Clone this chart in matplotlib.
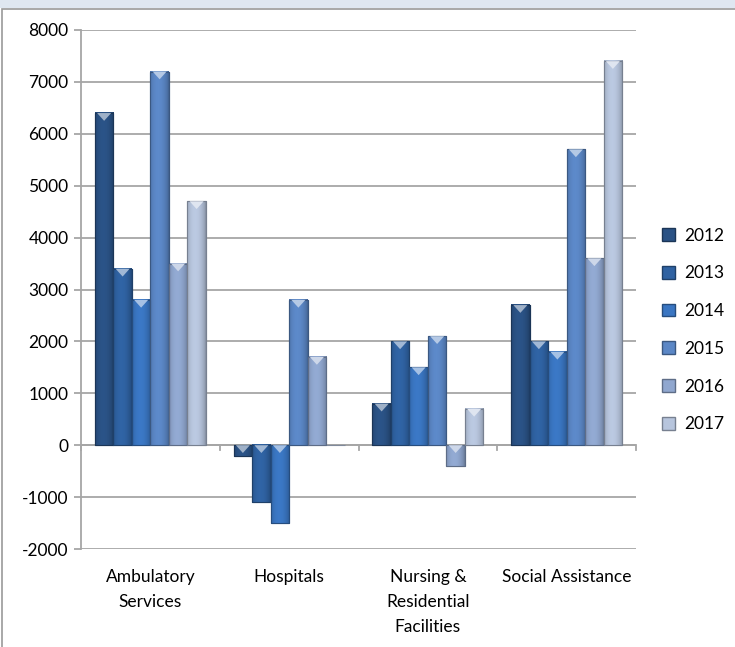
import matplotlib
matplotlib.use('Agg')
import matplotlib.pyplot as plt
from matplotlib.patches import Rectangle, Polygon, Patch
import matplotlib.colors as mcolors
import numpy as np

plt.rcParams['font.family'] = ['Lato', 'DejaVu Sans']
plt.rcParams['axes.unicode_minus'] = False

# data
categories = ['Ambulatory\nServices', 'Hospitals', 'Nursing &\nResidential\nFacilities', 'Social Assistance']
years = ['2012', '2013', '2014', '2015', '2016', '2017']
v2012 = [6400, -200, 800, 2700]
v2013 = [3400, -1100, 2000, 2000]
v2014 = [2800, -1500, 1500, 1800]
v2015 = [7200, 2800, 2100, 5700]
v2016 = [3500, 1700, -400, 3600]
v2017 = [4700, 0, 700, 7400]
series = [v2012, v2013, v2014, v2015, v2016, v2017]
colors = ['#2a5285', '#2f62a2', '#3a76c2', '#5b87c6', '#90a7cf', '#b7c5dd']

fig = plt.figure(figsize=(7.35, 6.47), dpi=100)
fig.patch.set_facecolor('white')
# window band and chart border
fig.patches.append(Rectangle((0, 1 - 8/647), 1, 8/647, transform=fig.transFigure,
                             facecolor='#dfe7f1', edgecolor='none', zorder=0))
fig.patches.append(Rectangle((2/735, -0.01), 1.1, 1 - 9/647 + 0.01, transform=fig.transFigure,
                             facecolor='none', edgecolor='#9a9a9a', linewidth=1.2, zorder=1))

ax = fig.add_axes([81/735, 1 - 549/647, (636 - 81)/735, (549 - 30)/647])

n = len(years)
bw = 0.8 / n
x = np.arange(len(categories))
tri_h = 150

def shade(c, f):
    r, g, b = mcolors.to_rgb(c)
    return (r * f, g * f, b * f)

for i, vals in enumerate(series):
    bars = ax.bar(x - 0.4 + bw * (i + 0.5), vals, width=bw, color=colors[i],
                  edgecolor=shade(colors[i], 0.7), linewidth=0.8, zorder=3)
    for b in bars:
        h = b.get_height()
        if h == 0:
            continue
        x0, w = b.get_x(), b.get_width()
        y0, y1 = min(b.get_y(), b.get_y() + h), max(b.get_y(), b.get_y() + h)
        # horizontal shading across the bar
        t = np.linspace(0, 1, 40)
        f = 0.82 + 0.25 * np.sin(np.pi * t) ** 0.6 - 0.1 * t
        base = np.array(mcolors.to_rgb(colors[i]))
        img = np.clip(base[None, :] * f[:, None], 0, 1)[None, :, :]
        ax.imshow(img, extent=[x0, x0 + w, y0, y1], aspect='auto', zorder=3.5,
                  interpolation='bilinear')
        ax.add_patch(Rectangle((x0, y0), w, y1 - y0, facecolor='none',
                               edgecolor=shade(colors[i], 0.65), linewidth=0.8, zorder=4))
        th = min(tri_h, (y1 - y0) * 0.8)
        light = tuple(min(1, c + (1 - c) * 0.55) for c in mcolors.to_rgb(colors[i]))
        ax.add_patch(Polygon([(x0 + w * 0.12, y1), (x0 + w * 0.88, y1), (x0 + w / 2, y1 - th)],
                             closed=True, facecolor=light, edgecolor='none', zorder=4.5))

ax.set_xlim(-0.5, len(categories) - 0.5)
ax.set_ylim(-2000, 8000)
ax.set_yticks(range(-2000, 8001, 1000))
ax.yaxis.grid(True, color='#a6a6a6', linewidth=1.3)
ax.set_axisbelow(True)
for s in ['top', 'right', 'bottom']:
    ax.spines[s].set_visible(False)
ax.spines['left'].set_color('#a6a6a6')
ax.spines['left'].set_linewidth(1.3)
ax.axhline(0, color='#a6a6a6', linewidth=1.3, zorder=2)
ax.tick_params(axis='y', length=5, color='#a6a6a6', width=1.3, labelsize=12.5, pad=4)
ax.tick_params(axis='x', length=0)
ax.set_xticks([])
for xb in np.arange(-0.5, len(categories), 1.0):
    ax.plot([xb, xb], [0, -100], color='#a6a6a6', linewidth=1.3, zorder=2, clip_on=False)
for xi, lab in zip(x, categories):
    ax.text(xi, -2380, lab, ha='center', va='top', fontsize=12.5, linespacing=1.72)

handles = [Patch(facecolor=c, edgecolor=shade(c, 0.65)) for c in colors]
fig.legend(handles, years, loc='center', bbox_to_anchor=(0.943, 0.49), frameon=False,
           fontsize=12.5, handlelength=0.75, handleheight=0.75, handletextpad=0.5,
           labelspacing=1.25)

fig.savefig('out.png', dpi=100)
